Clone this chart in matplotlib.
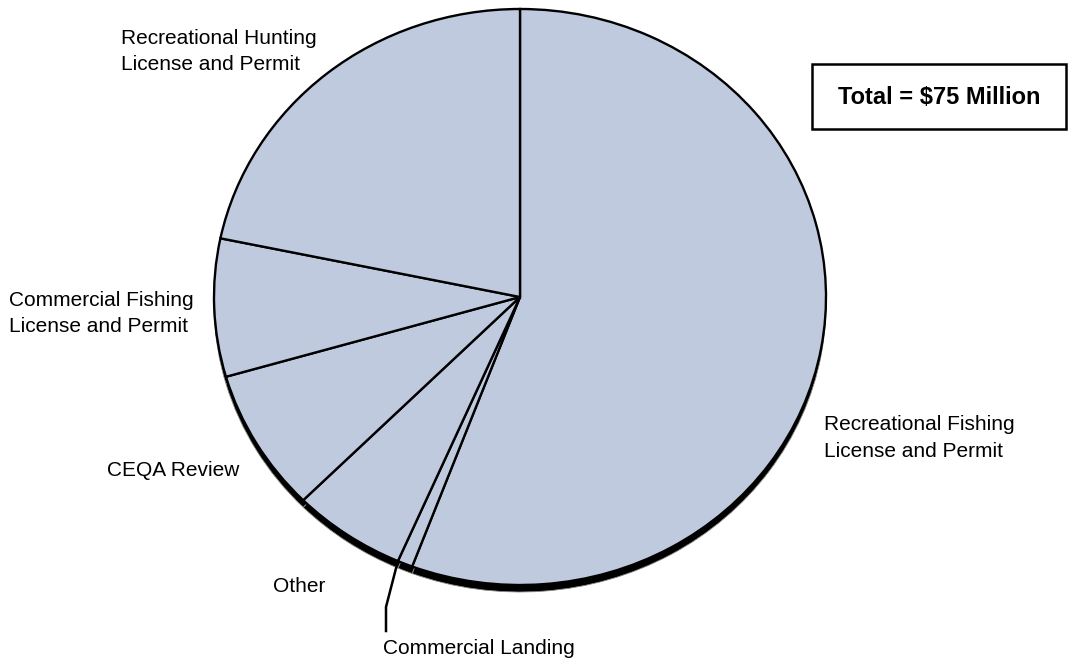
import numpy as np
import matplotlib.pyplot as plt

plt.rcParams['font.family'] = ['Liberation Sans', 'DejaVu Sans']

# revenue by source, $ millions (clockwise from 12 o'clock)
sources = ['Recreational Fishing\nLicense and Permit', 'Commercial Landing', 'Other',
           'CEQA Review', 'Commercial Fishing\nLicense and Permit',
           'Recreational Hunting\nLicense and Permit']
amounts = [41.8, 0.6, 4.5, 6.0, 5.8, 16.3]
total_text = 'Total = $75 Million'

W, H = 1068, 660
fig = plt.figure(figsize=(W / 100, H / 100), dpi=100)

# pie face: centre (520, 297) px, radii 306 x 288 px
cx, cy, rx, ry = 520, 297, 306, 288
ax = fig.add_axes([(cx - rx) / W, (H - cy - ry) / H, 2 * rx / W, 2 * ry / H])
depth = 7 / ry

# dark rim underneath (3D look)
shadow, _ = ax.pie(amounts, startangle=90, counterclock=False, center=(0, -depth),
                   colors=['black'] * len(amounts),
                   wedgeprops=dict(edgecolor='#8a8a8a', linewidth=0.6))
for w in shadow:
    w.set_zorder(1)
wedges, _ = ax.pie(amounts, startangle=90, counterclock=False,
                   colors=['#c0cadf'] * len(amounts),
                   wedgeprops=dict(edgecolor='black', linewidth=1.7))
for w in wedges:
    w.set_zorder(2)
ax.set_aspect('auto')
ax.set_xlim(-1, 1)
ax.set_ylim(-1, 1)
ax.axis('off')

# overlay in pixel coordinates for labels
ov = fig.add_axes([0, 0, 1, 1], facecolor='none')
ov.set_xlim(0, W)
ov.set_ylim(H, 0)
ov.axis('off')

fs = 15
lbl = dict(fontsize=fs, ha='left', va='baseline', linespacing=1.5)
# y = baseline of the last line
ov.text(824, 457, sources[0], **lbl)
ov.text(383, 654, sources[1], **lbl)
ov.text(273, 592, sources[2], **lbl)
ov.text(107, 476, sources[3], **lbl)
ov.text(9, 332, sources[4], **lbl)
ov.text(121, 70, sources[5], **lbl)

# leader for the thin Commercial Landing slice
frac = (amounts[0] + amounts[1]) / sum(amounts)
th = np.deg2rad(90 - 360 * frac)
px, py = cx + rx * np.cos(th), cy - ry * np.sin(th)
ov.plot([px, 386, 386], [py, 607, 631], color='black', lw=1.8, zorder=5)

# total box
ov.add_patch(plt.Rectangle((812, 64), 254, 65, facecolor='white',
                           edgecolor='black', lw=1.8))
ov.text(939, 97, total_text, fontsize=17, fontweight='bold',
        ha='center', va='center')

fig.savefig('out.png', dpi=100)
